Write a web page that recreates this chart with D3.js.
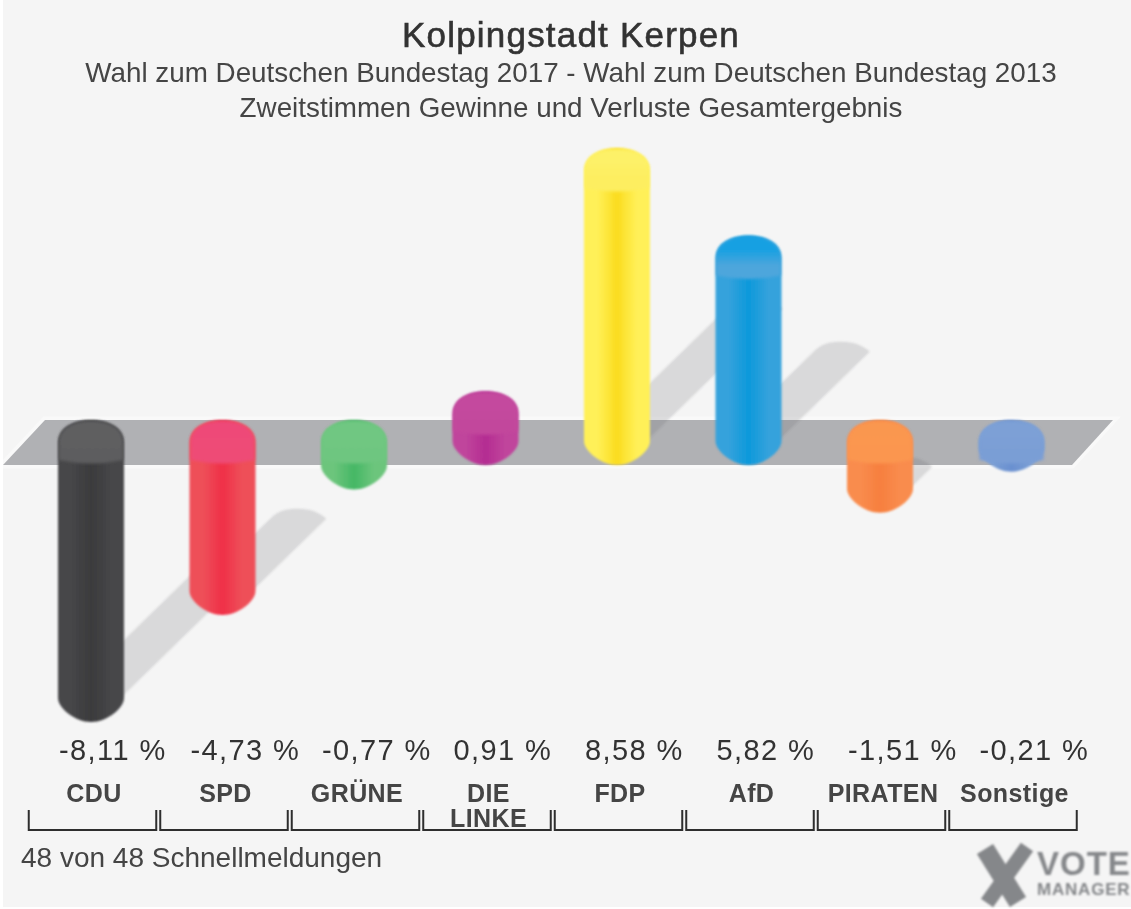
<!DOCTYPE html>
<html>
<head>
<meta charset="utf-8">
<script src="https://cdn.jsdelivr.net/npm/d3@7"></script>
<style>
  html, body { margin: 0; padding: 0; background: #fff; }
  svg { display: block; }
  text { font-family: "Liberation Sans", Arial, sans-serif; }
</style>
</head>
<body>
<script>
const parties = ["CDU", "SPD", "GRÜNE", "DIE LINKE", "FDP", "AfD", "PIRATEN", "Sonstige"];
const partyLines = [["CDU"], ["SPD"], ["GRÜNE"], ["DIE", "LINKE"], ["FDP"], ["AfD"], ["PIRATEN"], ["Sonstige"]];
const changes = [-8.11, -4.73, -0.77, 0.91, 8.58, 5.82, -1.51, -0.21];
const changeLabels = ["-8,11 %", "-4,73 %", "-0,77 %", "0,91 %", "8,58 %", "5,82 %", "-1,51 %", "-0,21 %"];

const bodyEdge = ["#464648", "#ee5059", "#6cc57c", "#c0459c", "#fff058", "#35a2dc", "#f98c4e", "#7b9fd5"];
const bodyMid = ["#3b3b3d", "#f02f48", "#45b765", "#b42c92", "#fbdc1e", "#0c99db", "#f77f3e", "#6a90d0"];
const capTop = ["#5f5f61", "#ee4a78", "#70c782", "#c44a9e", "#fdf167", "#17a0e2", "#fa974f", "#7da0d6"];
const capBottom = ["#5d5d5f", "#ee4b76", "#6ec680", "#c2479c", "#fdee60", "#4ea6dc", "#fb9650", "#7a9ed5"];

const w = 1131;
const h = 909;
const barHalf = 33;
const capRy = 22.5;
const shadowDx = 16; // per percentage point
const shadowDy = 15.6;
const shadowHalf = 28;

const x = d3.scaleBand().domain(parties).range([25.25, 1077.25]);
const y = d3.scaleLinear().domain([-10, 10]).range([759.5, 125.5]);
const cx = d => x(d) + x.bandwidth() / 2;
const y0 = y(0);

const svg = d3.select("body").append("svg").attr("width", w).attr("height", h);
const defs = svg.append("defs");

defs.append("filter").attr("id", "soft").append("feGaussianBlur").attr("stdDeviation", 0.8);
defs.append("filter").attr("id", "softCap").append("feGaussianBlur").attr("stdDeviation", 1.4);
defs.append("filter").attr("id", "softText").append("feGaussianBlur").attr("stdDeviation", 0.5);

parties.forEach((p, i) => {
  const body = defs.append("linearGradient").attr("id", "body" + i);
  [[0, bodyEdge[i]], [0.2, bodyEdge[i]], [0.5, bodyMid[i]], [0.8, bodyEdge[i]], [1, bodyEdge[i]]].forEach(s => {
    body.append("stop").attr("offset", s[0]).attr("stop-color", s[1]);
  });
  const cap = defs.append("linearGradient").attr("id", "cap" + i).attr("x2", 0).attr("y2", 1);
  cap.append("stop").attr("offset", 0.3).attr("stop-color", capTop[i]);
  cap.append("stop").attr("offset", 0.7).attr("stop-color", capBottom[i]);
});

// background
svg.append("rect").attr("x", 3).attr("y", 0).attr("width", w - 3).attr("height", h - 2).attr("fill", "#f5f5f5");

// zero plane
const plane = d3.line()([[3, y0 + capRy], [45, y0 - capRy], [1113, y0 - capRy], [1072, y0 + capRy]]) + "Z";
svg.append("path").attr("d", plane).attr("fill", "#fff").attr("stroke", "#fff").attr("stroke-width", 7).attr("opacity", 0.4);
svg.append("path").attr("d", plane).attr("fill", "#b0b1b4");

// shadows, the small bars hide theirs
const shadowG = svg.append("g").attr("filter", "url(#soft)");
parties.forEach((p, i) => {
  const v = changes[i];
  if (Math.abs(v) < 1) return;
  const sx = cx(p);
  const base = v > 0 ? y0 : y(v);
  const tx = sx + Math.abs(v) * shadowDx;
  const ty = base - Math.abs(v) * shadowDy;
  const d = `M${sx - shadowHalf},${base} L${tx - shadowHalf},${ty}`
    + ` C${tx - 20},${ty - 8} ${tx - 12},${ty - 10} ${tx},${ty - 10}`
    + ` C${tx + 12},${ty - 10} ${tx + 22},${ty - 6} ${tx + shadowHalf},${ty}`
    + ` L${sx + shadowHalf},${base} Z`;
  shadowG.append("path").attr("d", d).attr("fill", "#6a6b70").attr("opacity", 0.2);
});

// cylinders
function outline(c, top, bottom) {
  const l = c - barHalf;
  const r = c + barHalf;
  return `M${l},${top + capRy} C${l},${top + 7} ${c - 17},${top} ${c},${top}`
    + ` C${c + 17},${top} ${r},${top + 7} ${r},${top + capRy}`
    + ` L${r},${bottom - 24} C${r},${bottom - 14} ${c + 16},${bottom} ${c},${bottom}`
    + ` C${c - 16},${bottom} ${l},${bottom - 14} ${l},${bottom - 24} Z`;
}
function capShape(c, top) {
  const l = c - barHalf;
  const r = c + barHalf;
  const b = top + 2 * capRy;
  return `M${l + 1},${top + capRy} C${l + 1},${top + 8} ${c - 17},${top + 1} ${c},${top + 1}`
    + ` C${c + 17},${top + 1} ${r - 1},${top + 8} ${r - 1},${top + capRy}`
    + ` L${r - 1},${b - 5} Q${c},${b + 2} ${l + 1},${b - 5} Z`;
}

const bars = svg.append("g");
const barG = bars.selectAll("g").data(parties).enter().append("g");
barG.append("path")
  .attr("filter", "url(#soft)")
  .attr("d", (d, i) => {
    const top = Math.min(y(changes[i]), y0) - capRy;
    const bottom = Math.max(y(changes[i]), y0) + capRy;
    return outline(cx(d), top, bottom);
  })
  .attr("fill", (d, i) => `url(#body${i})`);
barG.append("path")
  .attr("filter", "url(#softCap)")
  .attr("d", (d, i) => capShape(cx(d), Math.min(y(changes[i]), y0) - capRy))
  .attr("fill", (d, i) => `url(#cap${i})`);

// titles
const textG = svg.append("g").attr("filter", "url(#softText)");
textG.append("text").attr("x", 571).attr("y", 47).attr("text-anchor", "middle")
  .attr("font-size", 35).attr("letter-spacing", 1.2).attr("fill", "#333").attr("stroke", "#333").attr("stroke-width", 0.6)
  .text("Kolpingstadt Kerpen");
textG.append("text").attr("x", 571).attr("y", 82).attr("text-anchor", "middle")
  .attr("font-size", 27.8).attr("fill", "#444")
  .text("Wahl zum Deutschen Bundestag 2017 - Wahl zum Deutschen Bundestag 2013");
textG.append("text").attr("x", 571).attr("y", 117).attr("text-anchor", "middle")
  .attr("font-size", 27.8).attr("fill", "#444")
  .text("Zweitstimmen Gewinne und Verluste Gesamtergebnis");

// value labels
textG.selectAll(".val").data(parties).enter().append("text").attr("class", "val")
  .attr("x", d => cx(d) - 32)
  .attr("y", 760)
  .attr("font-size", 29).attr("letter-spacing", 1.4).attr("fill", "#333")
  .text((d, i) => changeLabels[i]);

// party labels
const partyText = textG.selectAll(".party").data(parties).enter().append("text").attr("class", "party")
  .attr("text-anchor", "middle")
  .attr("font-size", 25).attr("font-weight", "bold").attr("letter-spacing", 0.4).attr("fill", "#444");
partyText.selectAll("tspan").data((d, i) => partyLines[i].map(t => ({ t, p: d }))).enter().append("tspan")
  .attr("x", d => cx(d.p) + 3)
  .attr("y", (d, i) => 802 + i * 25)
  .text(d => d.t);

// brackets
svg.append("g").attr("filter", "url(#softText)").selectAll("path").data(parties).enter().append("path")
  .attr("d", d => {
    const l = x(d) + 3.5;
    const r = x(d) + 131;
    return `M${l},810 V830 H${r} V810`;
  })
  .attr("fill", "none").attr("stroke", "#2e2e2e").attr("stroke-width", 2);

textG.append("text").attr("x", 21).attr("y", 867).attr("font-size", 28).attr("fill", "#444")
  .text("48 von 48 Schnellmeldungen");

// logo
const logo = svg.append("g").attr("filter", "url(#soft)");
logo.append("path").attr("d", "M985,849 L1018,902").attr("stroke", "#85878a").attr("stroke-width", 19).attr("fill", "none");
logo.append("path").attr("d", "M1027,847 L987,903").attr("stroke", "#85878a").attr("stroke-width", 15).attr("fill", "none");
logo.append("text").attr("x", 1037).attr("y", 875).attr("font-size", 33).attr("font-weight", "bold").attr("letter-spacing", 1).attr("fill", "#85878a").text("VOTE");
logo.append("text").attr("x", 1037).attr("y", 895).attr("font-size", 17).attr("font-weight", "bold").attr("letter-spacing", 0.8).attr("fill", "#85878a").text("MANAGER");
</script>
</body>
</html>
